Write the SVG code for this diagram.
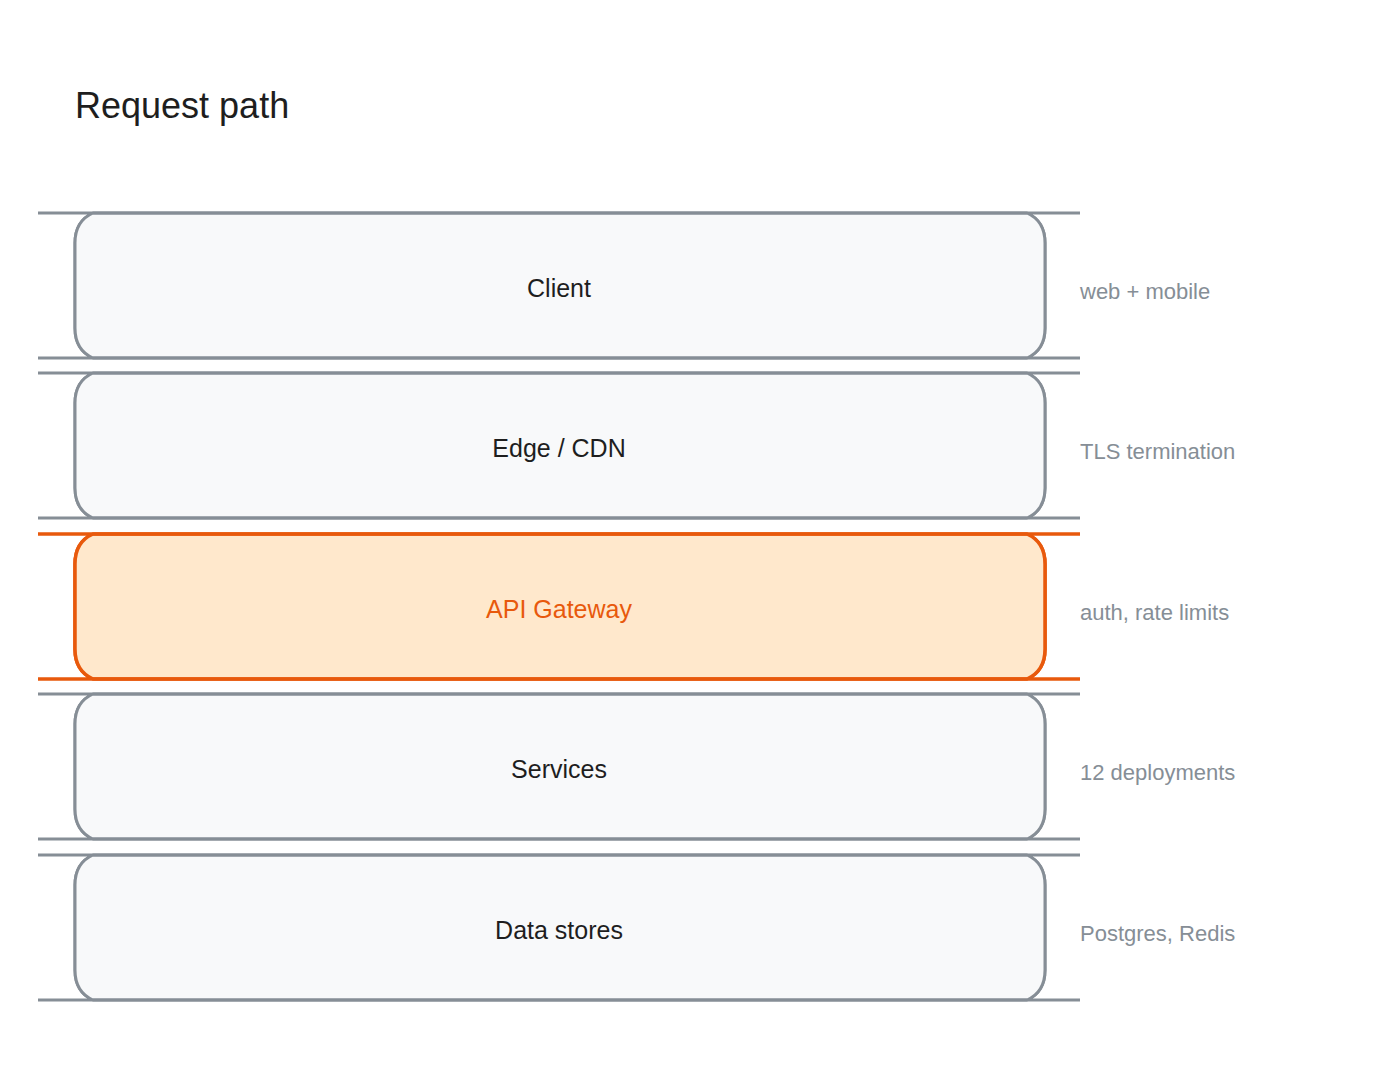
<svg xmlns="http://www.w3.org/2000/svg" width="1400" height="1075" viewBox="0 0 1400 1075">
<style>
.lay{fill:#f8f9fa;stroke:#868e96;stroke-width:3;stroke-linejoin:round}
.hl{fill:#ffe8cc;stroke:#e8590c;stroke-width:3.5}
.lbl{font-family:"Liberation Sans",sans-serif;font-size:25px;fill:#1e1e1e;text-anchor:middle}
.note{font-family:"Liberation Sans",sans-serif;font-size:22px;fill:#868e96}
</style>
<defs>
<path id="shape" d="M38,0 H1080 M93,0 Q75,8 75,30 V115 Q75,137 93,145 M1027,0 Q1045,8 1045,30 V115 Q1045,137 1027,145 M38,145 H1080"/>
</defs>
<rect width="1400" height="1075" fill="#ffffff"/>
<text x="75" y="118" font-family="Liberation Sans,sans-serif" font-size="36" fill="#1e1e1e">Request path</text>
<g id="client" transform="translate(0,213)">
<path class="lay" d="M93,0 H1027 Q1045,8 1045,30 V115 Q1045,137 1027,145 H93 Q75,137 75,115 V30 Q75,8 93,0 Z" stroke="none"/>
<use href="#shape" class="lay" fill="none"/>
<text class="lbl" x="559" y="84">Client</text>
</g>
<text class="note" x="1080" y="299">web + mobile</text>
<g id="edge" transform="translate(0,373)">
<path class="lay" d="M93,0 H1027 Q1045,8 1045,30 V115 Q1045,137 1027,145 H93 Q75,137 75,115 V30 Q75,8 93,0 Z" stroke="none"/>
<use href="#shape" class="lay" fill="none"/>
<text class="lbl" x="559" y="84">Edge / CDN</text>
</g>
<text class="note" x="1080" y="459">TLS termination</text>
<g id="gateway" transform="translate(0,534)">
<path class="hl" d="M93,0 H1027 Q1045,8 1045,30 V115 Q1045,137 1027,145 H93 Q75,137 75,115 V30 Q75,8 93,0 Z" stroke="none"/>
<use href="#shape" class="hl" fill="none"/>
<text class="lbl" x="559" y="84" style="fill:#e8590c">API Gateway</text>
</g>
<text class="note" x="1080" y="620">auth, rate limits</text>
<g id="services" transform="translate(0,694)">
<path class="lay" d="M93,0 H1027 Q1045,8 1045,30 V115 Q1045,137 1027,145 H93 Q75,137 75,115 V30 Q75,8 93,0 Z" stroke="none"/>
<use href="#shape" class="lay" fill="none"/>
<text class="lbl" x="559" y="84">Services</text>
</g>
<text class="note" x="1080" y="780">12 deployments</text>
<g id="data" transform="translate(0,855)">
<path class="lay" d="M93,0 H1027 Q1045,8 1045,30 V115 Q1045,137 1027,145 H93 Q75,137 75,115 V30 Q75,8 93,0 Z" stroke="none"/>
<use href="#shape" class="lay" fill="none"/>
<text class="lbl" x="559" y="84">Data stores</text>
</g>
<text class="note" x="1080" y="941">Postgres, Redis</text>
<g id="connectors"/>
</svg>
